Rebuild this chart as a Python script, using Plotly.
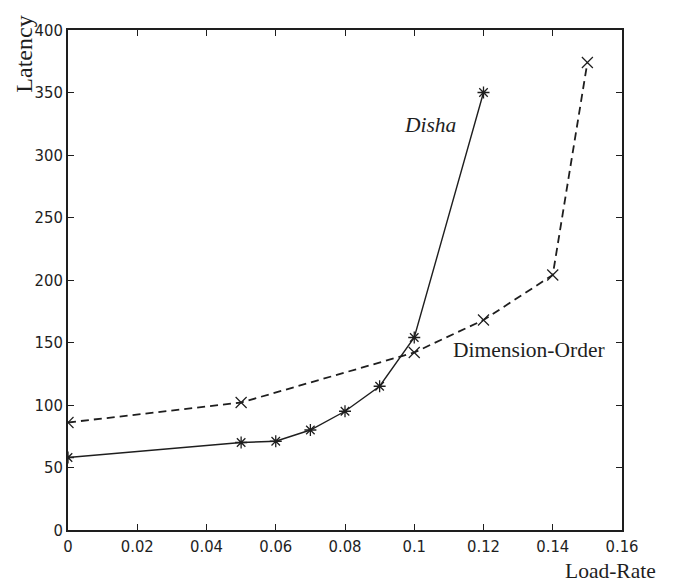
import plotly.graph_objects as go

disha_x = [0, 0.05, 0.06, 0.07, 0.08, 0.09, 0.10, 0.12]
disha_y = [58, 70, 71, 80, 95, 115, 154, 350]

dim_x = [0, 0.05, 0.10, 0.12, 0.14, 0.15]
dim_y = [86, 102, 142, 168, 204, 374]

x_ticks = [0, 0.02, 0.04, 0.06, 0.08, 0.1, 0.12, 0.14, 0.16]
x_tick_labels = ["0", "0.02", "0.04", "0.06", "0.08", "0.1", "0.12", "0.14", "0.16"]
y_ticks = [0, 50, 100, 150, 200, 250, 300, 350, 400]

ink = "#1e1e1e"
serif = "Liberation Serif, Times New Roman, serif"
narrow = "Liberation Sans Narrow, Arial Narrow, DejaVu Sans Condensed, Liberation Sans, sans-serif"

fig = go.Figure()
fig.add_trace(go.Scatter(
    x=dim_x, y=dim_y, mode="lines+markers",
    line=dict(color=ink, width=1.8, dash="8px,5px"),
    marker=dict(symbol="x-thin-open", size=11, color=ink, line=dict(width=1.2, color=ink)),
    showlegend=False))
fig.add_trace(go.Scatter(
    x=disha_x, y=disha_y, mode="lines+markers",
    line=dict(color=ink, width=1.4),
    marker=dict(symbol="asterisk-open", size=10, color=ink, line=dict(width=1.3, color=ink)),
    showlegend=False))

fig.add_annotation(x=0.1045, y=324, text="<i>Disha</i>", showarrow=False,
                   font=dict(family=serif, size=21.5, color=ink))
fig.add_annotation(x=0.133, y=144, text="Dimension-Order", showarrow=False,
                   font=dict(family=serif, size=21.5, color=ink))
fig.add_annotation(xref="paper", yref="paper", x=1.065, y=-0.082, xanchor="right", yanchor="middle",
                   text="Load-Rate", showarrow=False,
                   font=dict(family=serif, size=21.5, color=ink))
fig.add_annotation(xref="paper", yref="paper", x=-0.081, y=0.951, xanchor="center", yanchor="middle",
                   text="Latency", textangle=-90, showarrow=False,
                   font=dict(family=serif, size=24, color=ink))

axis_common = dict(showgrid=False, zeroline=False, showline=True, linecolor=ink, linewidth=1.6,
                   mirror="ticks", ticks="inside", ticklen=6, tickcolor=ink, tickwidth=1.3,
                   tickfont=dict(family=narrow, size=16.5, color=ink))
fig.update_xaxes(range=[0, 0.16], tickvals=x_ticks, ticktext=x_tick_labels, **axis_common)
fig.update_yaxes(range=[0, 400], tickvals=y_ticks, **axis_common)

fig.update_layout(width=674, height=582, margin=dict(l=68, r=52, t=30, b=52),
                  plot_bgcolor="white", paper_bgcolor="white")
fig.write_html("out.html", config={"displayModeBar": False},
               post_script="document.body.style.margin='0px';")
